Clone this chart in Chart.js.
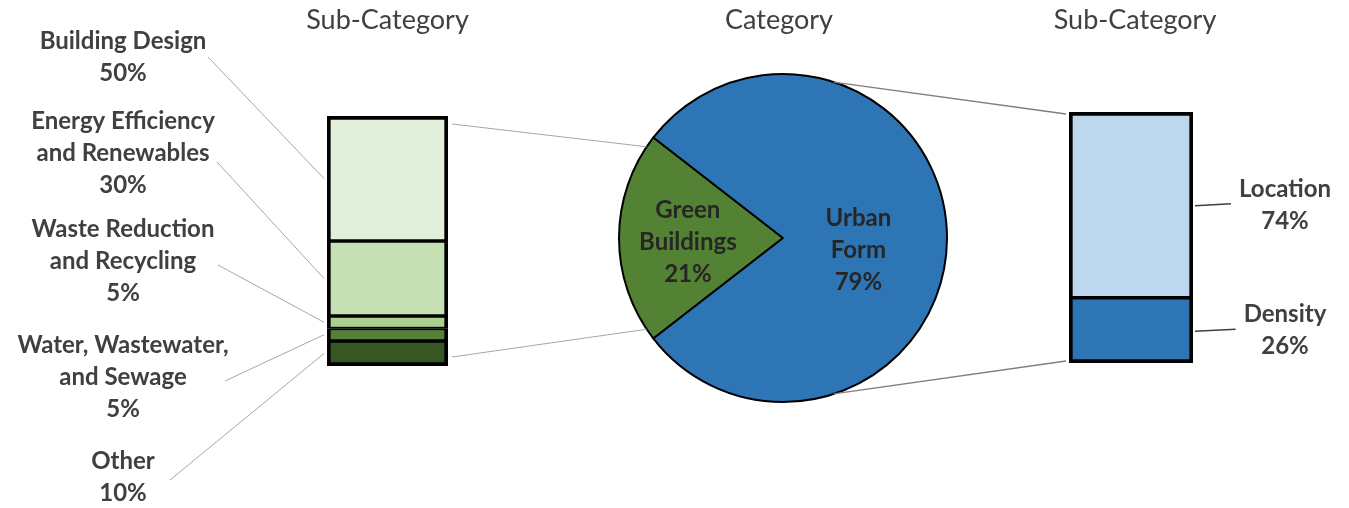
<!DOCTYPE html>
<html>
<head>
<meta charset="utf-8">
<script src="https://cdn.jsdelivr.net/npm/chart.js@4.4.0/dist/chart.umd.min.js"></script>
<style>
body { margin: 0; background: #fff; }
#wrap { position: relative; width: 1349px; height: 508px; }
#wrap canvas { position: absolute; left: 0; top: 0; }
</style>
</head>
<body>
<div id="wrap">
  <canvas id="pieChart" width="1349" height="508"></canvas>
  <canvas id="leftBar" width="1349" height="508"></canvas>
  <canvas id="rightBar" width="1349" height="508"></canvas>
</div>
<script>
// data
const titles = ['Sub-Category', 'Category', 'Sub-Category'];
const pieCategories = ['Green Buildings', 'Urban Form'];
const pieValues = [21, 79];
const pieLabelLines = [['Green', 'Buildings'], ['Urban', 'Form']];
const leftCategories = ['Building Design', 'Energy Efficiency and Renewables', 'Waste Reduction and Recycling', 'Water, Wastewater, and Sewage', 'Other'];
const leftValues = [50, 30, 5, 5, 10];
const leftLabelLines = [['Building Design'], ['Energy Efficiency', 'and Renewables'], ['Waste Reduction', 'and Recycling'], ['Water, Wastewater,', 'and Sewage'], ['Other']];
const rightCategories = ['Location', 'Density'];
const rightValues = [74, 26];

// style
const leftColors = ['#E2EFDA', '#C6E0B4', '#A9D08E', '#548235', '#375623'];
const rightColors = ['#BDD7EE', '#2E75B6'];
const pieColors = ['#548235', '#2E75B6'];
const W = 1349, H = 508;
const textColor = '#404040';
const labelFont = 'bold 24px Lato';
const lineH = 32;
// where each left label block starts (first line centre) and where its leader leaves it
const leftLabelX = 123;
const leftLabelTop = [41, 121, 229, 345, 461];
const leftLeaderFrom = [[208, 57], [217, 162], [218, 265], [225, 381], [170, 480]];

function barChart(id, names, values, colors, area) {
  const n = names.length;
  const datasets = [];
  for (let i = n - 1; i >= 0; i--) {//bottom segment first
    datasets.push({
      label: names[i],
      data: [values[i]],
      backgroundColor: colors[i],
      borderColor: '#000',
      // inner borders meet in pairs, so the outer edges get the full width
      borderWidth: { top: i === 0 ? 4 : 2, bottom: i === n - 1 ? 4 : 2, left: 4, right: 4 },
      borderSkipped: false,
      barPercentage: 1,
      categoryPercentage: 1
    });
  }
  return new Chart(document.getElementById(id).getContext('2d'), {
    type: 'bar',
    data: { labels: ['Sub-Category'], datasets: datasets },
    options: {
      responsive: false,
      animation: false,
      layout: { padding: { left: area[0], right: W - area[1], top: area[2], bottom: H - area[3] } },
      scales: {
        x: { display: false, stacked: true },
        y: { display: false, stacked: true, min: 0, max: 100 }
      },
      plugins: { legend: { display: false }, tooltip: { enabled: false } }
    }
  });
}

const leftChart = barChart('leftBar', leftCategories, leftValues, leftColors, [327, 448, 116, 366]);
const rightChart = barChart('rightBar', rightCategories, rightValues, rightColors, [1069, 1193, 112, 363]);

function segment(chart, n, i) {
  return chart.getDatasetMeta(n - 1 - i).data[0].getProps(['x', 'y', 'base', 'width'], true);
}

function line(ctx, x1, y1, x2, y2, color, w) {
  ctx.beginPath();
  ctx.moveTo(x1, y1);
  ctx.lineTo(x2, y2);
  ctx.strokeStyle = color;
  ctx.lineWidth = w;
  ctx.stroke();
}

function textBlock(ctx, lines, x, y, font, color) {
  ctx.font = font;
  ctx.fillStyle = color;
  ctx.textAlign = 'center';
  ctx.textBaseline = 'middle';
  lines.forEach((t, k) => ctx.fillText(t, x, y + k * lineH));
}

const annotate = {
  id: 'annotate',
  afterDraw(chart) {
    const ctx = chart.ctx;
    const arcs = chart.getDatasetMeta(0).data;
    const la = leftChart.chartArea, ra = rightChart.chartArea;
    ctx.save();

    // titles
    ctx.font = '27px Lato';
    ctx.fillStyle = textColor;
    ctx.textAlign = 'center';
    ctx.textBaseline = 'middle';
    ctx.fillText(titles[0], (la.left + la.right) / 2, 20);
    ctx.fillText(titles[1], arcs[0].x - 4, 20);
    ctx.fillText(titles[2], (ra.left + ra.right) / 2 + 4, 20);

    // pie labels
    arcs.forEach((a, i) => {
      const mid = (a.startAngle + a.endAngle) / 2;
      const r = a.outerRadius * (i === 0 ? 0.58 : 0.46);
      const lines = pieLabelLines[i].concat([pieValues[i] + '%']);
      const cy = a.y + Math.sin(mid) * r + (i === 0 ? 4 : 12) - (lines.length - 1) * lineH / 2;
      textBlock(ctx, lines, a.x + Math.cos(mid) * r, cy, labelFont, '#262626');
    });

    // left labels and leaders
    leftCategories.forEach((c, i) => {
      textBlock(ctx, leftLabelLines[i].concat([leftValues[i] + '%']), leftLabelX, leftLabelTop[i], labelFont, textColor);
      const s = segment(leftChart, leftCategories.length, i);
      line(ctx, leftLeaderFrom[i][0], leftLeaderFrom[i][1], la.left - 3, (s.y + s.base) / 2, '#A6A6A6', 1);
    });

    // right labels and leaders
    rightCategories.forEach((c, i) => {
      const s = segment(rightChart, rightCategories.length, i);
      const cy = (s.y + s.base) / 2;
      const lines = [c, rightValues[i] + '%'];
      const cx = ra.right + 92;
      textBlock(ctx, lines, cx, cy - lineH / 2, labelFont, textColor);
      const tw = ctx.measureText(c).width;
      line(ctx, ra.right + 2, cy + 1, cx - tw / 2 - 8, cy - 1, '#404040', 1.5);
    });

    // connectors: left bar -> green slice
    const g = arcs[0], inset = 4 * Math.PI / 180;
    const up = g.endAngle - inset, lo = g.startAngle + inset;
    line(ctx, la.right + 4, la.top + 8, g.x + Math.cos(up) * g.outerRadius, g.y + Math.sin(up) * g.outerRadius, '#A6A6A6', 1);
    line(ctx, la.right + 4, la.bottom - 9, g.x + Math.cos(lo) * g.outerRadius, g.y + Math.sin(lo) * g.outerRadius, '#A6A6A6', 1);

    // connectors: urban slice -> right bar
    const u = arcs[1], t = 72 * Math.PI / 180;
    line(ctx, u.x + Math.cos(-t) * u.outerRadius, u.y + Math.sin(-t) * u.outerRadius, ra.left - 3, ra.top + 2, '#7F7F7F', 1.3);
    line(ctx, u.x + Math.cos(t) * u.outerRadius, u.y + Math.sin(t) * u.outerRadius, ra.left - 3, ra.bottom - 2, '#7F7F7F', 1.3);
    ctx.restore();
  }
};

const pieChart = new Chart(document.getElementById('pieChart').getContext('2d'), {
  type: 'pie',
  data: {
    labels: pieCategories,
    datasets: [{
      data: pieValues,
      backgroundColor: pieColors,
      borderColor: '#000',
      borderWidth: 2
    }]
  },
  options: {
    responsive: false,
    animation: false,
    rotation: 270 - pieValues[0] * 1.8,//centre the green slice on the left
    layout: { padding: { left: 618, right: W - 948, top: 73, bottom: H - 403 } },
    plugins: { legend: { display: false }, tooltip: { enabled: false } }
  },
  plugins: [annotate]
});
</script>
</body>
</html>
